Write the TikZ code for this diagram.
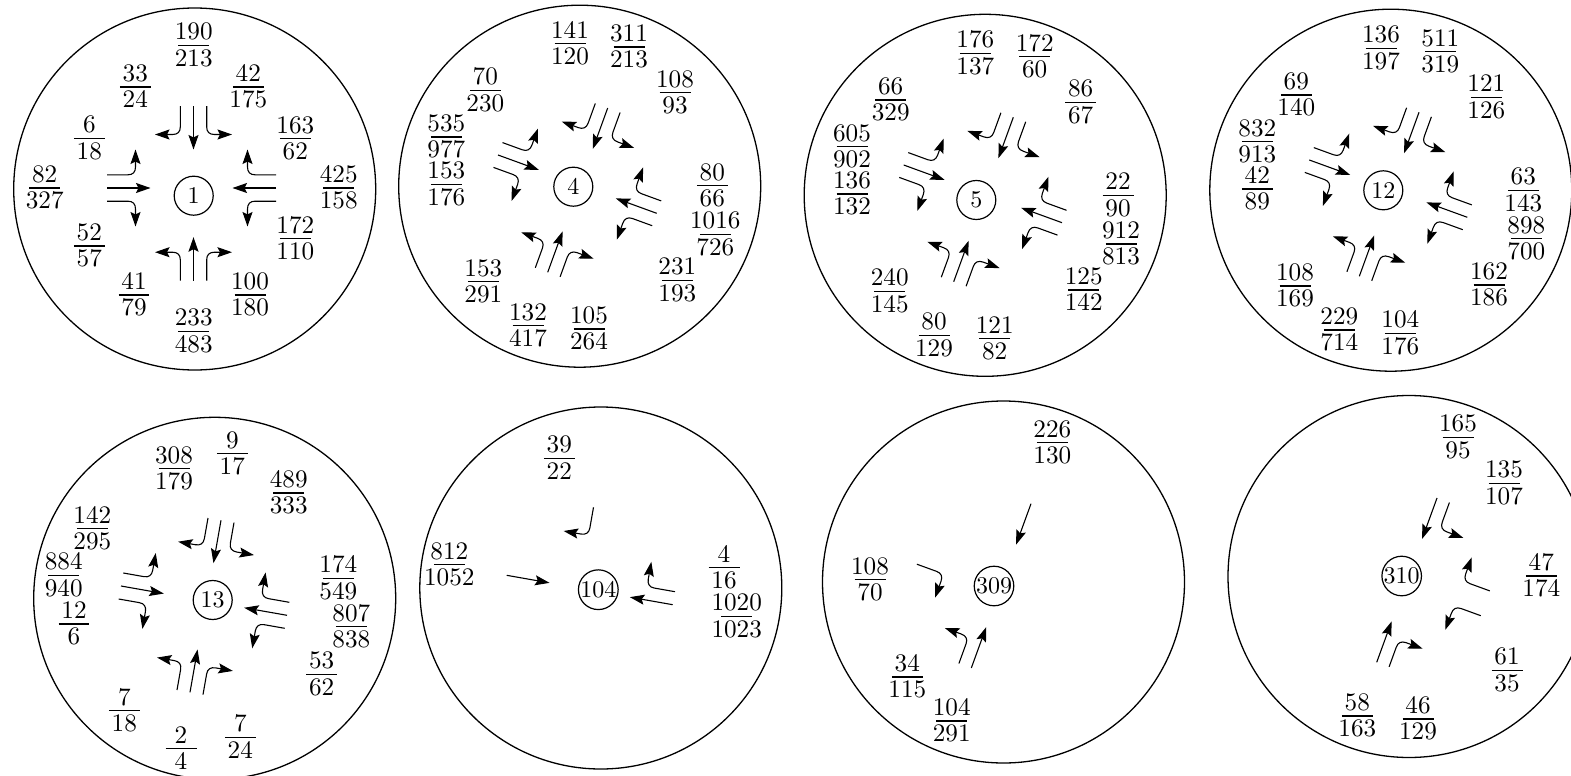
\documentclass[tikz,border=0pt]{standalone}
\usepackage{graphicx}
\usetikzlibrary{arrows.meta}
\tikzset{
  outerring/.style={draw,circle,minimum size=362pt,inner sep=0pt,line width=1.3pt},
  junction/.style={draw,circle,minimum size=39pt,inner sep=0pt,line width=1.2pt},
  flowarrow/.style={line width=1.1pt,-{Stealth[length=14.5pt,width=10pt,inset=2.5pt]}},
  fracnode/.style={anchor=base,inner sep=0pt,outer sep=0pt,scale=2.52}
}
\newcommand{\ffr}[2]{\hbox to 0pt{\hss\raisebox{2.2pt}{#1}\hss}\hbox to 0pt{\hss\raisebox{-8.3pt}{#2}\hss}\hbox to 0pt{\hss\raisebox{-.26pt}{\rule{12.3pt}{.52pt}}\hss}}
\newcommand{\fra}[5]{\node[fracnode] (#1) at (#2,-#3) {\ffr{#4}{#5}};}
\newcommand{\ring}[7]{\node[outerring] (o#1) at (#2,-#3) {};\node[junction] (c#1) at (#4,-#5) {\scalebox{#7}{#1}};}
\newcommand{\appr}[5]{\begin{scope}[shift={(#2,-#3)},rotate=#4]\coordinate (#1s) at (0,0);#5\end{scope}}
\newcommand{\goT}[1]{\coordinate (#1te) at (43.5,0);\draw[flowarrow] (#1s) -- (#1te);}
\newcommand{\goL}[1]{\coordinate (#1ls) at (0,13.2);\coordinate (#1le) at (28.5,38.5);\draw[flowarrow] (#1ls) -- (21,13.2) .. controls (26,13.2) and (28.5,16) .. (28.5,21) -- (#1le);}
\newcommand{\goR}[1]{\coordinate (#1rs) at (0,-13.2);\coordinate (#1re) at (28.5,-38.5);\draw[flowarrow] (#1rs) -- (21,-13.2) .. controls (26,-13.2) and (28.5,-16) .. (28.5,-21) -- (#1re);}
\begin{document}
\begin{tikzpicture}[x=1pt,y=1pt]
\useasboundingbox (0,0) rectangle (1571,-776);
\clip (0,0) rectangle (1571,-776);
% ---------- circle 1
\ring{1}{194.7}{189}{193.7}{195.7}{}{2.4}
\appr{an}{193.5}{106}{-90}{\goT{an}\goL{an}\goR{an}}
\appr{aw}{107}{188}{0}{\goT{aw}\goL{aw}\goR{aw}}
\appr{ae}{276}{188}{180}{\goT{ae}\goL{ae}\goR{ae}}
\appr{as}{193.5}{280.7}{90}{\goT{as}\goL{as}\goR{as}}
\fra{a1}{193.7}{45.3}{190}{213}
\fra{a2}{135.3}{87}{33}{24}
\fra{a3}{248.3}{87}{42}{175}
\fra{a4}{89.3}{138.3}{6}{18}
\fra{a5}{295.3}{138.7}{163}{62}
\fra{a6}{44.7}{188}{82}{327}
\fra{a7}{338.7}{188}{425}{158}
\fra{a8}{89.3}{246}{52}{57}
\fra{a9}{295.3}{238.7}{172}{110}
\fra{a10}{134}{295}{41}{79}
\fra{a11}{250}{295}{100}{180}
\fra{a12}{193.7}{331.3}{233}{483}
% ---------- circle 4
\ring{4}{579.7}{186.2}{573.3}{186.7}{}{2.4}
\appr{bn}{607.7}{108}{-110}{\goT{bn}\goL{bn}\goR{bn}}
\appr{bw}{498}{155}{-20}{\goT{bw}\goL{bw}\goR{bw}}
\appr{be}{656.7}{213.3}{160}{\goT{be}\goL{be}\goR{be}}
\appr{bs}{547.7}{272.3}{70}{\goT{bs}\goL{bs}\goR{bs}}
\fra{b1}{570}{43.7}{141}{120}
\fra{b2}{629}{47}{311}{213}
\fra{b3}{675}{92.7}{108}{93}
\fra{b4}{485.3}{90.3}{70}{230}
\fra{b5}{446.3}{137}{535}{977}
\fra{b6}{446.3}{184.3}{153}{176}
\fra{b7}{712.3}{185.7}{80}{66}
\fra{b8}{715.3}{234.3}{1016}{726}
\fra{b9}{677.3}{280.3}{231}{193}
\fra{b10}{483.3}{281.7}{153}{291}
\fra{b11}{528}{325.7}{132}{417}
\fra{b12}{589}{329}{105}{264}
% ---------- circle 5
\ring{5}{985.2}{195.3}{976.3}{200}{}{2.4}
\appr{cn}{1013.3}{117.3}{-110}{\goT{cn}\goL{cn}\goR{cn}}
\appr{cw}{903.7}{165}{-20}{\goT{cw}\goL{cw}\goR{cw}}
\appr{ce}{1062}{222.7}{160}{\goT{ce}\goL{ce}\goR{ce}}
\appr{cs}{953.7}{281.7}{70}{\goT{cs}\goL{cs}\goR{cs}}
\fra{c1x}{975.3}{53.3}{176}{137}
\fra{c2x}{1034.7}{56.7}{172}{60}
\fra{c3x}{1080.7}{102.3}{86}{67}
\fra{c4x}{890.7}{100}{66}{329}
\fra{c5x}{852}{146.7}{605}{902}
\fra{c6x}{852}{194}{136}{132}
\fra{c7x}{1118}{195.3}{22}{90}
\fra{c8x}{1121}{244}{912}{813}
\fra{c9x}{1083.7}{290}{125}{142}
\fra{c10x}{889.7}{291.3}{240}{145}
\fra{c11x}{934}{335.3}{80}{129}
\fra{c12x}{994.7}{338.7}{121}{82}
% ---------- circle 12
\ring{12}{1390.8}{190.2}{1383.3}{190.3}{}{2.4}
\appr{dn}{1419}{112.3}{-110}{\goT{dn}\goL{dn}\goR{dn}}
\appr{dw}{1309.3}{160}{-20}{\goT{dw}\goL{dw}\goR{dw}}
\appr{de}{1467.3}{217.3}{160}{\goT{de}\goL{de}\goR{de}}
\appr{ds}{1359.3}{276.3}{70}{\goT{ds}\goL{ds}\goR{ds}}
\fra{d1}{1381}{48.3}{136}{197}
\fra{d2}{1440.3}{51.7}{511}{319}
\fra{d3}{1486.3}{97.3}{121}{126}
\fra{d4}{1296.3}{95}{69}{140}
\fra{d5}{1257.3}{141.7}{832}{913}
\fra{d6}{1257.3}{189}{42}{89}
\fra{d7}{1523.3}{190.3}{63}{143}
\fra{d8}{1526.3}{238.7}{898}{700}
\fra{d9}{1489}{285}{162}{186}
\fra{d10}{1295}{286}{108}{169}
\fra{d11}{1339.3}{330}{229}{714}
\fra{d12}{1400.3}{333.3}{104}{176}
% ---------- circle 13
\ring{13}{214.7}{598.3}{212.7}{600}{}{2.4}
\appr{en}{221}{520.3}{-100}{\goT{en}\goL{en}\goR{en}}
\appr{ew}{121}{586}{-10}{\goT{ew}\goL{ew}\goR{ew}}
\appr{ee}{287}{615.3}{170}{\goT{ee}\goL{ee}\goR{ee}}
\appr{es}{190}{692.3}{80}{\goT{es}\goL{es}\goR{es}}
\fra{e1}{232.3}{453.7}{9}{17}
\fra{e2}{174}{468.7}{308}{179}
\fra{e3}{288.7}{493}{489}{333}
\fra{e4}{92.3}{528.7}{142}{295}
\fra{e5}{63.7}{575.3}{884}{940}
\fra{e6}{74}{624}{12}{6}
\fra{e7}{338.3}{578.3}{174}{549}
\fra{e8}{351.3}{626.7}{807}{838}
\fra{e9}{321.7}{674.3}{53}{62}
\fra{e10}{124.3}{710.7}{7}{18}
\fra{e11}{181}{748.7}{2}{4}
\fra{e12}{240.3}{737.3}{7}{24}
% ---------- circle 104
\ring{104}{600.8}{588}{598.3}{589.7}{}{2.4}
\appr{fn}{606.5}{509.6}{-100}{\goR{fn}}
\appr{fw}{506.7}{575.3}{-10}{\goT{fw}}
\appr{fe}{672.7}{604.7}{170}{\goT{fe}\goR{fe}}
\fra{f1}{559.3}{458.3}{39}{22}
\fra{f2}{449.3}{564.7}{812}{1052}
\fra{f3}{724}{567.7}{4}{16}
\fra{f4}{736.7}{616.3}{1020}{1023}
% ---------- circle 309
\ring{309}{1003.5}{582}{994}{586}{}{2.4}
\appr{gn}{1031}{503.7}{-110}{\goT{gn}}
\appr{gw}{921.4}{551.8}{-20}{\goR{gw}}
\appr{gs}{971.3}{668}{70}{\goT{gs}\goL{gs}}
\fra{g1}{1052.3}{442.7}{226}{130}
\fra{g2}{870}{579.7}{108}{70}
\fra{g3}{907.3}{677}{34}{115}
\fra{g4}{951.7}{721}{104}{291}
% ---------- circle 310
\ring{310}{1409}{576.5}{1401.7}{576}{}{2.4}
\appr{hn}{1437}{498}{-110}{\goT{hn}\goL{hn}}
\appr{he}{1485.3}{603.3}{160}{\goL{he}\goR{he}}
\appr{hs}{1376.7}{662.3}{70}{\goT{hs}\goR{hs}}
\fra{h1}{1458}{437.3}{165}{95}
\fra{h2}{1504}{483.3}{135}{107}
\fra{h3}{1541.3}{576}{47}{174}
\fra{h4}{1507}{670.3}{61}{35}
\fra{h5}{1357.3}{716}{58}{163}
\fra{h6}{1418}{719}{46}{129}
\end{tikzpicture}
\end{document}
